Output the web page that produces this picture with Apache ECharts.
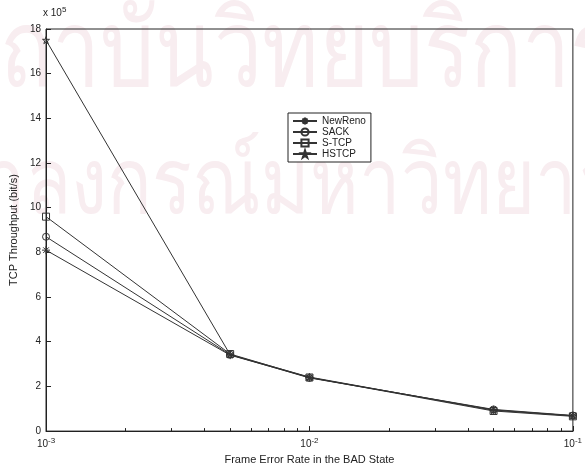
<!DOCTYPE html>
<html>
<head>
<meta charset="utf-8">
<script src="https://cdn.jsdelivr.net/npm/echarts@6/dist/echarts.min.js"></script>
<style>
  html, body { margin: 0; padding: 0; background: #fff; }
  #chart { width: 585px; height: 470px; }
</style>
</head>
<body>
<div id="chart"></div>
<script>
// Frame error rate in the BAD state (log scale)
const errorRates = [0.001, 0.005, 0.01, 0.05, 0.1];
// TCP throughput, bit/s
const newReno = [8.1e5, 3.4e5, 2.4e5, 0.95e5, 0.68e5];
const sack    = [8.7e5, 3.42e5, 2.38e5, 0.97e5, 0.7e5];
const sTcp    = [9.6e5, 3.45e5, 2.4e5, 0.9e5, 0.66e5];
const hsTcp   = [17.5e5, 3.42e5, 2.42e5, 0.93e5, 0.69e5];
const seriesNames = ['NewReno', 'SACK', 'S-TCP', 'HSTCP'];
const yTicks = [0, 2, 4, 6, 8, 10, 12, 14, 16, 18];

const font = 'Liberation Sans, Arial, sans-serif';
const ink = '#222';
const stamp = '#f8edf0';

function pairs(ys) { return errorRates.map((x, i) => [x, ys[i]]); }

const markers = [
  'path://M5,0 L5,10 M0,5 L10,5 M1.5,1.5 L8.5,8.5 M8.5,1.5 L1.5,8.5',
  'circle',
  'rect',
  'path://M5,0 L6.2,3.6 L10,3.6 L6.9,5.8 L8.1,9.5 L5,7.2 L1.9,9.5 L3.1,5.8 L0,3.6 L3.8,3.6 Z'
];
const values = [newReno, sack, sTcp, hsTcp];

const chart = echarts.init(document.getElementById('chart'), null, { renderer: 'canvas' });
chart.setOption({
  backgroundColor: '#fff',
  animation: false,
  textStyle: { fontFamily: font },
  graphic: [
    {
      type: 'text', x: -52, y: 2, scaleY: 1.25, z: 0, silent: true,
      style: { text: 'สถาบันวิทยบริการ', fontSize: 86, fill: stamp, fontFamily: 'Noto Sans, DejaVu Sans, sans-serif' }
    },
    {
      type: 'text', x: -110, y: 140, scaleY: 1.25, z: 0, silent: true,
      style: { text: 'จุฬาลงกรณ์มหาวิทยาลัย', fontSize: 74, fill: stamp, fontFamily: 'Noto Sans, DejaVu Sans, sans-serif' }
    },
    {
      type: 'text', left: 43, top: 6, z: 10,
      style: { text: 'x 10{s|5}', fontSize: 10, fill: ink, fontFamily: font, rich: { s: { fontSize: 8, verticalAlign: 'top', padding: [0,0,6,0] } } }
    }
  ],
  grid: { left: 42, right: 12, top: 29, bottom: 37, show: true, borderColor: ink, borderWidth: 1, z: 5 },
  legend: {
    orient: 'vertical', left: 288, top: 113, z: 10,
    data: seriesNames,
    backgroundColor: '#fff', borderColor: ink, borderWidth: 1,
    padding: [3, 5, 3, 4], itemGap: 1,
    itemWidth: 24, itemHeight: 9,
    textStyle: { fontSize: 10, color: ink, fontFamily: font }
  },
  xAxis: {
    type: 'log', logBase: 10, min: 0.001, max: 0.1,
    name: 'Frame Error Rate in the BAD State', nameLocation: 'middle', nameGap: 22,
    nameTextStyle: { fontSize: 11, color: ink, fontFamily: font },
    axisLine: { lineStyle: { color: ink } },
    axisTick: { inside: true, length: 5, lineStyle: { color: ink } },
    minorTick: { show: true, splitNumber: 9, length: 3, lineStyle: { color: ink } },
    splitLine: { show: false },
    axisLabel: {
      color: ink, fontSize: 10, margin: 6,
      formatter: v => '10{s|' + Math.round(Math.log10(v)) + '}',
      rich: { s: { fontSize: 8, verticalAlign: 'top', padding: [0,0,6,0] } }
    }
  },
  yAxis: {
    type: 'value', min: 0, max: 18e5, interval: 2e5,
    name: 'TCP Throughput (bit/s)', nameLocation: 'middle', nameGap: 26, nameRotate: 90,
    nameTextStyle: { fontSize: 11, color: ink, fontFamily: font },
    axisLine: { lineStyle: { color: ink } },
    axisTick: { inside: true, length: 5, lineStyle: { color: ink } },
    splitLine: { show: false },
    axisLabel: {
      color: ink, fontSize: 10, margin: 5,
      formatter: v => {
        const t = Math.round(v / 1e5);
        return yTicks.includes(t) ? String(t) : '';
      }
    }
  },
  series: seriesNames.map((name, i) => ({
    name, type: 'line',
    data: pairs(values[i]),
    symbol: markers[i], symbolSize: i === 0 ? 8 : 7,
    showSymbol: true,
    lineStyle: { color: '#333', width: 1 },
    itemStyle: { color: i === 0 ? '#333' : 'transparent', borderColor: '#333', borderWidth: 1 },
    z: 6
  }))
});
</script>
</body>
</html>
